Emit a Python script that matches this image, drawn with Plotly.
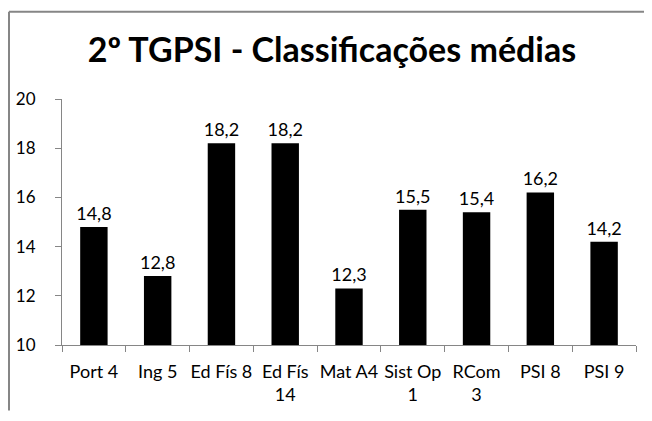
import plotly.graph_objects as go

categories = ['Port 4', 'Ing 5', 'Ed Fís 8', 'Ed Fís<br>14', 'Mat A4', 'Sist Op<br>1',
              'RCom<br>3', 'PSI 8', 'PSI 9']
values = [14.8, 12.8, 18.2, 18.2, 12.3, 15.5, 15.4, 16.2, 14.2]
y_ticks = [10, 12, 14, 16, 18, 20]

font_family = 'Lato, Open Sans, sans-serif'
axis_grey = 'rgb(134,134,134)'

# the page body has an 8px margin, so the figure is kept a bit smaller
W, H = 636, 405

fig = go.Figure()
fig.add_trace(go.Bar(x=categories, y=values,
                     marker=dict(color='black', line=dict(width=0)),
                     text=values, texttemplate='%{y:.1f}', textposition='outside',
                     constraintext='none',
                     textfont=dict(family=font_family, size=18, color='black'),
                     cliponaxis=False))

fig.update_layout(
    width=W, height=H,
    separators=', ',
    plot_bgcolor='white', paper_bgcolor='white',
    showlegend=False,
    bargap=0.57,
    margin=dict(l=54, r=8, t=91, b=66),
    title=dict(text='<b>2º TGPSI - Classificações médias</b>',
               x=(332 - 8) / W, xref='container', xanchor='center',
               y=1 - 42 / H, yref='container', yanchor='middle',
               font=dict(family=font_family, size=34, color='black')),
    xaxis=dict(showgrid=False, showline=True, linecolor=axis_grey, linewidth=1,
               ticks='outside', tickson='boundaries', ticklen=6, tickcolor=axis_grey,
               tickangle=0, ticklabelstandoff=10,
               tickfont=dict(family=font_family, size=18, color='black')),
    yaxis=dict(range=[10, 20], tickvals=y_ticks, showgrid=False, zeroline=False,
               showline=True, linecolor=axis_grey, linewidth=1,
               ticks='outside', ticklen=6, tickcolor=axis_grey,
               ticklabelstandoff=16,
               tickfont=dict(family=font_family, size=17, color='black')),
)

# chart frame (left and top edges, the rest runs off the picture)
plot_w, plot_h = W - 54 - 8, H - 91 - 66
frame_left = (1 - 54) / plot_w
frame_right = (W - 54) / plot_w
frame_top = 1 + (91 - 3) / plot_h
frame_bottom = -66 / plot_h
fig.add_shape(type='line', xref='paper', yref='paper',
              x0=frame_left, x1=frame_left, y0=frame_bottom, y1=frame_top,
              line=dict(color=axis_grey, width=2))
fig.add_shape(type='line', xref='paper', yref='paper',
              x0=frame_left, x1=frame_right, y0=frame_top, y1=frame_top,
              line=dict(color=axis_grey, width=2))

fig.write_html('out.html', config=dict(displayModeBar=False))
